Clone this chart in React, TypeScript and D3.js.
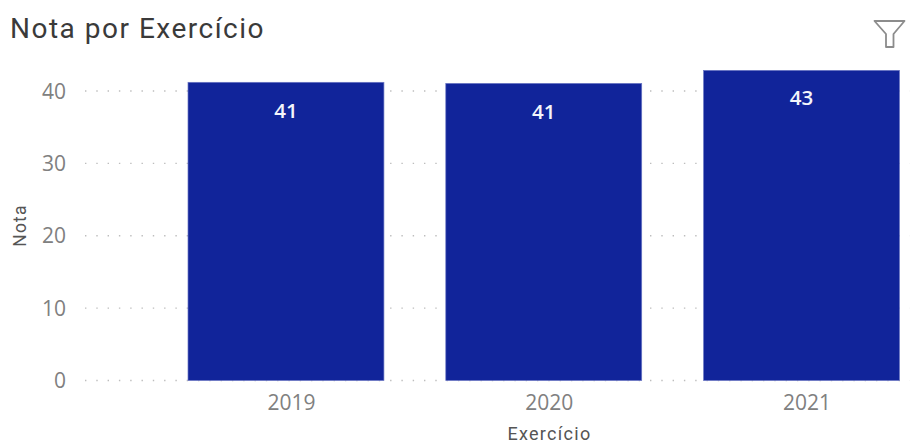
import React from "react";
import * as d3 from "d3";

const categories = ["2019", "2020", "2021"];
const values = [41.2, 41.05, 42.85];
const labels = ["41", "41", "43"];
const yTicks = [0, 10, 20, 30, 40];

const W = 913, H = 443;

export default function App() {
  const x = d3.scaleBand<string>().domain(categories).range([188, 899.5]).paddingInner(0.24).paddingOuter(0);
  const y = d3.scaleLinear().domain([0, 40]).range([380.5, 91]);
  const tickFont = "'Open Sans', sans-serif";
  const titleFont = "Roboto, sans-serif";
  return (
    <svg width={W} height={H} viewBox={`0 0 ${W} ${H}`} style={{ position: "absolute", left: 0, top: 0, background: "#fff" }}>
      <text x={10} y={38} fontFamily={titleFont} fontSize={28} letterSpacing={1.5} fill="#3a3a3a">Nota por Exercício</text>
      <path d="M874.5 21 H904.5 L893.5 34 V47 H886 V34 Z" fill="none" stroke="#8c8c8c" strokeWidth={1.8} strokeLinejoin="round" />
      {yTicks.map((t) => (
        <g key={t}>
          <line x1={85} x2={910} y1={y(t)} y2={y(t)} stroke="#bdbdbd" strokeWidth={1.4} strokeDasharray="1.4 9.9" />
          <text x={66} y={y(t)} dy="0.36em" textAnchor="end" fontFamily={tickFont} fontSize={21} fill="#808080">{t}</text>
        </g>
      ))}
      {categories.map((c, i) => (
        <g key={c}>
          <rect x={x(c)} y={y(values[i])} width={x.bandwidth()} height={y(0) - y(values[i])} fill="#11249a" stroke="#6a76c4" strokeWidth={0.7} />
          <text x={x(c)! + x.bandwidth() / 2} y={y(values[i]) + 28.5 - (i === 2 ? 1 : 0)} dy="0.36em" textAnchor="middle" fontFamily={tickFont} fontSize={20.5} fontWeight={600} fill="#f4f5fb">{labels[i]}</text>
          <text x={x(c)! + x.bandwidth() / 2 + 5.5} y={402} dy="0.36em" textAnchor="middle" fontFamily={tickFont} fontSize={21} fill="#808080">{c}</text>
        </g>
      ))}
      <text x={549.5} y={434} dy="0.36em" textAnchor="middle" fontFamily={titleFont} fontSize={18} letterSpacing={1.3} fill="#555">Exercício</text>
      <text transform="translate(20,225.5) rotate(-90)" dy="0.36em" textAnchor="middle" fontFamily={titleFont} fontSize={17.5} letterSpacing={1.2} fill="#555">Nota</text>
    </svg>
  );
}
